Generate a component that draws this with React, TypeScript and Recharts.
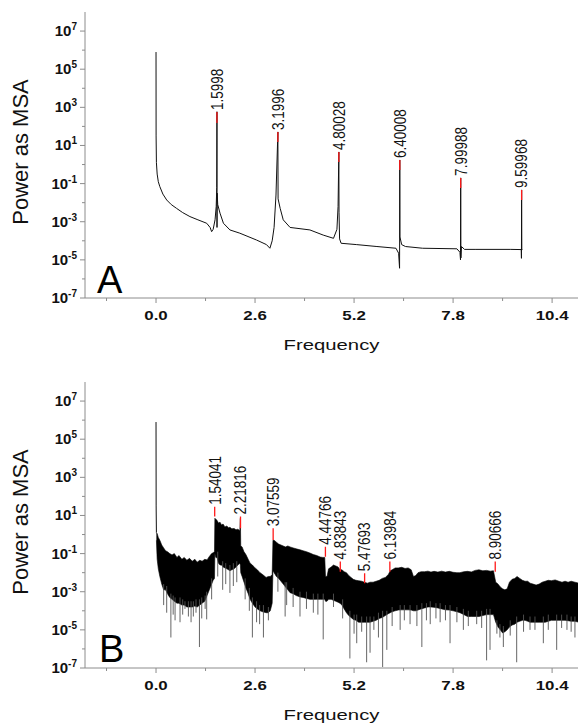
import React from "react";
import { ComposedChart, Line, Area, Scatter, XAxis, YAxis, Label } from "recharts";

const FONT = "'Liberation Sans', Arial, Helvetica, sans-serif";
const AXIS_GRAY = "#8c8c8c";
const TEXT = "#111";

const X_DOMAIN = [-1.865, 11.08];
const Y_DOMAIN = [1e-7, 1e8];
const X_TICKS = [-1.3, 0, 1.3, 2.6, 3.9, 5.2, 6.5, 7.8, 9.1, 10.4];
const X_MAJOR = [0, 2.6, 5.2, 7.8, 10.4];
const Y_TICKS = [1e-7, 1e-6, 1e-5, 1e-4, 1e-3, 1e-2, 1e-1, 1, 1e1, 1e2, 1e3, 1e4, 1e5, 1e6, 1e7];
const Y_RIGHT_TICKS = [1e-7, 1e-5, 1e-3, 1e-1, 1e1, 1e3, 1e5, 1e7];

// ---- panel A : clean spectrum (values as log10 of power)
const topFreq = [
  0, 0.002, 0.01, 0.03, 0.06, 0.1, 0.18, 0.28, 0.4, 0.54,
  0.7, 0.89, 1.1, 1.33, 1.42, 1.46, 1.5, 1.55, 1.58, 1.595,
  1.5998, 1.601, 1.605, 1.62, 1.68, 1.77, 1.94, 2.2, 2.64, 2.9,
  2.99, 3.05, 3.1, 3.15, 3.1996, 3.205, 3.26, 3.34, 3.52, 4.04,
  4.39, 4.66, 4.75, 4.78, 4.80028, 4.805, 4.82, 4.86, 5.27, 5.8,
  6.3, 6.37, 6.395, 6.40008, 6.405, 6.45, 6.55, 7.0, 7.9, 7.98,
  7.995, 7.99988, 8.005, 8.02, 8.1, 8.4, 9.3, 9.59, 9.595, 9.59968,
  9.605, 9.62,
];
const topLog = [
  5.9, 1.5, 0.1, -0.5, -0.9, -1.16, -1.55, -1.86, -2.1, -2.3,
  -2.52, -2.73, -2.9, -3.08, -3.3, -3.52, -3.4, -2.9, -2.2, -1.2,
  2.77, -3.3, -1.5, -2.1, -2.55, -3.08, -3.43, -3.6, -3.96, -4.2,
  -4.39, -4.0, -3.3, -1.6, 1.71, -1.8, -2.3, -2.9, -3.3, -3.43,
  -3.7, -3.87, -3.4, -2.2, 0.66, -2.5, -3.9, -4.13, -4.2, -4.3,
  -4.39, -4.65, -5.44, 0.24, -3.8, -4.2, -4.3, -4.39, -4.42, -4.6,
  -5.0, -0.7, -4.9, -4.3, -4.45, -4.45, -4.45, -4.46, -4.92, -1.33,
  -4.46, -4.46,
];
const topPeakLabels = ["1.5998", "3.1996", "4.80028", "6.40008", "7.99988", "9.59968"];
const topPeakFreq = [1.5998, 3.1996, 4.80028, 6.40008, 7.99988, 9.59968];
const topPeakHiLog = [2.76, 1.71, 0.66, 0.24, -0.7, -1.33];
const topPeakLoLog = [2.18, 1.18, 0.13, -0.29, -1.23, -1.86];

// ---- panel B : noisy spectrum
const zeroFreq = [0, 0.003, 0.01];
const zeroLog = [5.9, 1.5, 0.1];

const bandFreq = [
  0.01, 0.03, 0.06, 0.1, 0.15, 0.2, 0.25, 0.3, 0.36, 0.42,
  0.48, 0.55, 0.6, 0.68, 0.74, 0.81, 0.88, 0.95, 1.02, 1.08,
  1.15, 1.21, 1.28, 1.34, 1.4, 1.46, 1.5, 1.535, 1.545, 1.57,
  1.6, 1.64, 1.68, 1.72, 1.76, 1.81, 1.86, 1.9, 1.94, 1.99,
  2.05, 2.1, 2.15, 2.2, 2.215, 2.225, 2.26, 2.31, 2.36, 2.42,
  2.47, 2.53, 2.6, 2.66, 2.73, 2.8, 2.89, 2.95, 3.0, 3.05,
  3.07, 3.1, 3.16, 3.22, 3.28, 3.34, 3.4, 3.46, 3.52, 3.6,
  3.68, 3.78, 3.86, 3.95, 4.04, 4.13, 4.22, 4.31, 4.38, 4.43,
  4.45, 4.49, 4.53, 4.6, 4.66, 4.72, 4.78, 4.83, 4.88, 4.94,
  5.0, 5.06, 5.12, 5.18, 5.25, 5.32, 5.4, 5.47, 5.55, 5.62,
  5.7, 5.78, 5.86, 5.94, 6.02, 6.1, 6.15, 6.2, 6.28, 6.36,
  6.45, 6.54, 6.62, 6.7, 6.76, 6.82, 6.88, 6.96, 7.05, 7.14,
  7.22, 7.3, 7.4, 7.5, 7.6, 7.7, 7.8, 7.9, 7.98, 8.08,
  8.18, 8.28, 8.38, 8.48, 8.58, 8.68, 8.78, 8.86, 8.92, 8.98,
  9.04, 9.1, 9.16, 9.22, 9.28, 9.35, 9.42, 9.48, 9.55, 9.62,
  9.69, 9.76, 9.82, 9.9, 9.98, 10.06, 10.14, 10.22, 10.3, 10.38,
  10.48, 10.58, 10.66, 10.74, 10.82, 10.9, 11.0, 11.1,
];
const bandHighLog = [
  0.1, 0.05, -0.15, -0.3, -0.55, -0.7, -0.85, -0.9, -1.0, -1.07,
  -1.0, -1.2, -1.1, -1.3, -1.2, -1.35, -1.25, -1.4, -1.3, -1.45,
  -1.35, -1.4, -1.3, -1.33, -1.15, -1.0, -0.95, -0.9, 0.85, 0.8,
  0.75, 0.6, 0.65, 0.5, 0.55, 0.4, 0.45, 0.35, 0.38, 0.3,
  0.32, 0.25, 0.28, 0.2, 0.85, -0.6, -0.65, -0.9, -1.05, -1.3,
  -1.5, -1.6, -1.75, -1.85, -2.0, -2.1, -2.25, -2.2, -2.2, -2.1,
  -0.3, -0.3, -0.4, -0.5, -0.55, -0.6, -0.65, -0.6, -0.65, -0.7,
  -0.75, -0.8, -0.85, -0.9, -0.97, -1.05, -1.1, -1.18, -1.2, -1.2,
  -2.2, -2.2, -1.8, -1.7, -1.6, -1.65, -1.7, -1.85, -1.85, -1.95,
  -2.0, -2.15, -2.25, -2.35, -2.4, -2.42, -2.45, -2.5, -2.55, -2.5,
  -2.5, -2.45, -2.4, -2.3, -2.25, -2.1, -1.9, -1.85, -1.75, -1.75,
  -1.72, -1.78, -1.75, -1.85, -2.2, -2.15, -2.0, -1.95, -1.95, -1.92,
  -1.97, -1.93, -1.97, -1.92, -1.97, -1.93, -1.98, -2.0, -2.0, -1.95,
  -1.93, -1.96, -1.88, -1.85, -1.9, -1.88, -1.92, -1.9, -2.5, -2.6,
  -2.75, -2.85, -2.9, -2.85, -2.5, -2.35, -2.3, -2.2, -2.3, -2.4,
  -2.45, -2.45, -2.55, -2.6, -2.65, -2.6, -2.5, -2.45, -2.4, -2.42,
  -2.38, -2.45, -2.5, -2.45, -2.5, -2.45, -2.5, -2.55,
];
const bandLowLog = [
  -0.3, -1.3, -1.8, -2.2, -2.6, -2.9, -2.9, -3.1, -3.3, -3.4,
  -3.5, -3.6, -3.6, -3.7, -3.7, -3.8, -3.8, -3.8, -3.75, -3.8,
  -3.7, -3.6, -3.5, -3.2, -2.9, -2.6, -2.4, -2.3, -1.0, -1.2,
  -1.2, -1.5, -1.6, -1.6, -1.7, -1.75, -1.8, -1.85, -1.9, -1.85,
  -1.8, -1.7, -1.6, -1.5, -1.6, -2.0, -2.2, -2.5, -2.8, -3.1,
  -3.4, -3.6, -3.8, -3.9, -4.0, -4.05, -4.1, -4.1, -4.0, -3.6,
  -1.9, -2.0, -2.2, -2.3, -2.45, -2.6, -2.75, -2.9, -3.05, -3.1,
  -3.2, -3.27, -3.3, -3.35, -3.4, -3.4, -3.4, -3.4, -3.4, -3.4,
  -3.5, -3.5, -3.4, -3.4, -3.45, -3.5, -3.55, -3.6, -3.7, -3.9,
  -4.1, -4.25, -4.35, -4.45, -4.5, -4.6, -4.6, -4.6, -4.6, -4.6,
  -4.55, -4.5, -4.4, -4.35, -4.25, -4.15, -4.1, -4.05, -4.0, -3.96,
  -3.95, -3.95, -3.95, -3.96, -4.0, -4.0, -3.96, -3.9, -3.85, -3.8,
  -3.8, -3.82, -3.85, -3.9, -3.95, -3.96, -4.0, -4.05, -4.1, -4.2,
  -4.3, -4.3, -4.3, -4.3, -4.25, -4.2, -4.2, -4.2, -4.6, -4.85,
  -5.0, -5.16, -5.1, -5.0, -4.85, -4.75, -4.7, -4.6, -4.55, -4.5,
  -4.5, -4.55, -4.6, -4.6, -4.6, -4.6, -4.6, -4.6, -4.55, -4.5,
  -4.5, -4.5, -4.5, -4.5, -4.52, -4.55, -4.55, -4.6,
];

// downward noise spikes below the band
const spikeFreq = [
  0.2, 0.28, 0.39, 0.45, 0.5, 0.63, 0.7, 0.76, 0.85, 0.92,
  0.98, 1.05, 1.14, 1.2, 1.29, 1.33, 1.46, 1.62, 1.75, 1.83,
  1.94, 2.03, 2.12, 2.34, 2.45, 2.53, 2.64, 2.72, 2.82, 2.95,
  3.2, 3.39, 3.43, 3.6, 3.78, 3.95, 4.13, 4.25, 4.39, 4.66,
  4.9, 5.09, 5.2, 5.27, 5.4, 5.53, 5.62, 5.72, 5.84, 5.95,
  6.06, 6.2, 6.41, 6.52, 6.67, 6.85, 6.98, 7.1, 7.2, 7.35,
  7.46, 7.6, 7.72, 7.9, 8.07, 8.2, 8.42, 8.55, 8.68, 8.77,
  8.95, 9.03, 9.12, 9.3, 9.47, 9.65, 9.82, 9.95, 10.17, 10.3,
  10.52, 10.65, 10.79, 10.9, 11.0,
];
const spikeTopLog = [
  -2.6, -2.7, -3.1, -3.2, -3.3, -3.3, -3.4, -3.5, -3.5, -3.5,
  -3.5, -3.4, -3.4, -3.3, -3.2, -3.0, -2.3, -0.9, -1.4, -1.5,
  -1.6, -1.5, -1.4, -2.3, -2.8, -3.3, -3.5, -3.7, -3.7, -3.8,
  -2.0, -2.5, -2.5, -2.8, -3.0, -3.0, -3.1, -3.1, -3.1, -3.1,
  -3.4, -4.0, -4.2, -4.2, -4.3, -4.3, -4.3, -4.3, -4.1, -4.0,
  -4.0, -3.8, -3.7, -3.7, -3.7, -3.7, -3.6, -3.6, -3.5, -3.6,
  -3.6, -3.7, -3.7, -3.8, -3.9, -4.0, -4.0, -4.0, -3.9, -3.9,
  -4.5, -4.7, -4.8, -4.5, -4.3, -4.2, -4.3, -4.3, -4.3, -4.2,
  -4.2, -4.2, -4.2, -4.3, -4.3,
];
const spikeLowLog = [
  -3.7, -4.1, -5.4, -4.2, -4.5, -4.6, -4.2, -3.9, -4.3, -4.6,
  -4.3, -4.1, -5.9, -4.4, -3.9, -4.45, -3.4, -2.2, -2.9, -2.6,
  -3.06, -2.7, -2.5, -3.4, -4.0, -5.4, -4.6, -4.7, -5.4, -4.5,
  -3.0, -4.3, -3.7, -3.8, -4.3, -3.9, -4.1, -4.2, -5.5, -3.8,
  -4.4, -6.5, -5.2, -5.7, -5.1, -6.7, -6.2, -5.0, -5.4, -6.95,
  -6.05, -4.8, -5.0, -4.5, -4.7, -4.8, -5.9, -4.5, -4.7, -4.4,
  -4.6, -4.5, -5.7, -4.6, -5.0, -4.8, -4.7, -4.9, -6.6, -6.05,
  -5.2, -5.4, -5.9, -5.3, -6.7, -5.1, -5.0, -5.0, -5.7, -5.0,
  -6.05, -4.9, -5.0, -5.1, -5.4,
];
const botPeakLabels = ["1.54041", "2.21816", "3.07559", "4.44766", "4.83843", "5.47693", "6.13984", "8.90666"];
const botPeakFreq = [1.54041, 2.21816, 3.07559, 4.44766, 4.83843, 5.47693, 6.13984, 8.90666];
const botPeakHiLog = [1.46, 0.94, 0.33, -0.64, -1.42, -2.03, -1.42, -1.42];
const botPeakLoLog = [0.94, 0.33, -0.29, -1.16, -1.95, -2.56, -1.95, -1.95];

const pow = (e: number) => Math.pow(10, e);

function toRows(freq: number[], logs: number[]) {
  return freq.map((f, i) => ({ f, v: pow(logs[i]) }));
}

// vertical segments separated by nulls so each is drawn on its own
function toSegments(freq: number[], hi: number[], lo: number[]) {
  const out: { f: number; v: number | null }[] = [];
  freq.forEach((f, i) => {
    out.push({ f, v: pow(hi[i]) }, { f, v: pow(lo[i]) }, { f, v: null });
  });
  return out;
}

function toLabels(freq: number[], hi: number[], labels: string[]) {
  return freq.map((f, i) => ({ f, v: pow(hi[i]), label: labels[i] }));
}

const topRows = toRows(topFreq, topLog);
const topRed = toSegments(topPeakFreq, topPeakHiLog, topPeakLoLog);
const topLabels = toLabels(topPeakFreq, topPeakHiLog, topPeakLabels);

const bandRows = bandFreq.map((f, i) => ({ f, band: [pow(bandLowLog[i]), pow(bandHighLog[i])] }));
const zeroRows = toRows(zeroFreq, zeroLog);
const spikeRows = toSegments(spikeFreq, spikeTopLog, spikeLowLog);
const botRed = toSegments(botPeakFreq, botPeakHiLog, botPeakLoLog);
const botLabels = toLabels(botPeakFreq, botPeakHiLog, botPeakLabels);

function BottomTick({ x, y, payload }: any) {
  const major = X_MAJOR.includes(payload.value);
  return (
    <g>
      <line x1={x} x2={x} y1={y} y2={y + (major ? 5 : 3)} stroke={AXIS_GRAY} />
      {major && (
        <text
          transform={`translate(${x},${y + 22}) scale(1.3,1)`}
          textAnchor="middle"
          fontSize={13}
          fontWeight="bold"
          fontFamily={FONT}
          fill={TEXT}
        >
          {payload.value.toFixed(1)}
        </text>
      )}
    </g>
  );
}

function TopTick({ x, y, payload }: any) {
  const major = X_MAJOR.includes(payload.value);
  return <line x1={x} x2={x} y1={y} y2={y + (major ? 5 : 3)} stroke={AXIS_GRAY} />;
}

function LeftTick({ x, y, payload }: any) {
  const e = Math.round(Math.log10(payload.value));
  const major = e % 2 !== 0;
  return (
    <g>
      <line x1={x - (major ? 5 : 3)} x2={x} y1={y} y2={y} stroke={AXIS_GRAY} />
      {major && (
        <text x={x - 8} y={y + 5} textAnchor="end" fontSize={15} fontWeight="bold" fontFamily={FONT} fill={TEXT}>
          10
          <tspan dy={-6} fontSize={10}>
            {e}
          </tspan>
        </text>
      )}
    </g>
  );
}

function RightTick({ x, y }: any) {
  return <line x1={x - 4} x2={x} y1={y} y2={y} stroke={AXIS_GRAY} />;
}

function PeakLabel(p: any) {
  if (p.cx == null || p.cy == null) return <g />;
  return (
    <text
      transform={`translate(${p.cx},${p.cy - 2}) rotate(-90) scale(1,1.2)`}
      dy="0.36em"
      fontSize={13.5}
      fontFamily={FONT}
      fill={TEXT}
    >
      {p.payload.label}
    </text>
  );
}

function axes() {
  return [
    <XAxis
      key="xb"
      dataKey="f"
      type="number"
      domain={X_DOMAIN}
      allowDataOverflow
      ticks={X_TICKS}
      interval={0}
      height={55}
      tickSize={0}
      tickMargin={0}
      tickLine={false}
      axisLine={{ stroke: AXIS_GRAY }}
      tick={<BottomTick />}
    >
      <Label
        content={({ viewBox }: any) => (
          <text
            transform={`translate(${viewBox.x + viewBox.width / 2},${viewBox.y + 52}) scale(1.45,1)`}
            textAnchor="middle"
            fontSize={14}
            fontFamily={FONT}
            fill={TEXT}
          >
            Frequency
          </text>
        )}
      />
    </XAxis>,
    <XAxis
      key="xt"
      xAxisId="top"
      orientation="top"
      dataKey="f"
      type="number"
      domain={X_DOMAIN}
      allowDataOverflow
      ticks={X_TICKS}
      interval={0}
      height={0}
      tickSize={0}
      tickMargin={0}
      tickLine={false}
      axisLine={{ stroke: AXIS_GRAY }}
      tick={<TopTick />}
    />,
    <YAxis
      key="yl"
      type="number"
      scale="log"
      domain={Y_DOMAIN}
      allowDataOverflow
      ticks={Y_TICKS}
      interval={0}
      width={85}
      tickSize={0}
      tickMargin={0}
      tickLine={false}
      axisLine={{ stroke: AXIS_GRAY }}
      tick={<LeftTick />}
    >
      <Label
        content={({ viewBox }: any) => (
          <text
            transform={`translate(20,${viewBox.y + viewBox.height / 2 - 3}) rotate(-90)`}
            textAnchor="middle"
            dy="0.36em"
            fontSize={22}
            fontFamily={FONT}
            fill={TEXT}
          >
            Power as MSA
          </text>
        )}
      />
    </YAxis>,
    <YAxis
      key="yr"
      yAxisId="right"
      orientation="right"
      type="number"
      scale="log"
      domain={Y_DOMAIN}
      allowDataOverflow
      ticks={Y_RIGHT_TICKS}
      interval={0}
      width={0}
      tickSize={0}
      tickMargin={0}
      tickLine={false}
      axisLine={{ stroke: AXIS_GRAY }}
      tick={<RightTick />}
    />,
  ];
}

function PanelA() {
  return (
    <ComposedChart width={579} height={362} data={topRows} margin={{ top: 12, right: 1, bottom: 9, left: 0 }}>
      {axes()}
      <Line dataKey="v" stroke="#111" strokeWidth={1} dot={false} isAnimationActive={false} />
      <Line data={topRed} dataKey="v" stroke="#ff1a1a" strokeWidth={1.3} dot={false} isAnimationActive={false} />
      <Scatter data={topLabels} dataKey="v" shape={PeakLabel} isAnimationActive={false} />
      <text x={97} y={293} fontSize={38} fontFamily={FONT} fill="#000">
        A
      </text>
    </ComposedChart>
  );
}

function PanelB() {
  return (
    <ComposedChart width={579} height={383} data={bandRows} margin={{ top: 42, right: 1, bottom: 0, left: 0 }}>
      {axes()}
      <Line data={spikeRows} dataKey="v" stroke="#555" strokeWidth={0.9} dot={false} isAnimationActive={false} />
      <Area dataKey="band" stroke="#000" strokeWidth={0.6} fill="#000" fillOpacity={1} isAnimationActive={false} />
      <Line data={zeroRows} dataKey="v" stroke="#111" strokeWidth={1} dot={false} isAnimationActive={false} />
      <Line data={botRed} dataKey="v" stroke="#ff1a1a" strokeWidth={1.3} dot={false} isAnimationActive={false} />
      <Scatter data={botLabels} dataKey="v" shape={PeakLabel} isAnimationActive={false} />
      <text x={99} y={322} fontSize={38} fontFamily={FONT} fill="#000">
        B
      </text>
    </ComposedChart>
  );
}

export default function App() {
  return (
    <div style={{ position: "absolute", left: 0, top: 0, width: 579, height: 723, background: "#fff", overflow: "hidden" }}>
      <div style={{ position: "absolute", left: 0, top: 0 }}>
        <PanelA />
      </div>
      <div style={{ position: "absolute", left: 0, top: 340 }}>
        <PanelB />
      </div>
    </div>
  );
}
